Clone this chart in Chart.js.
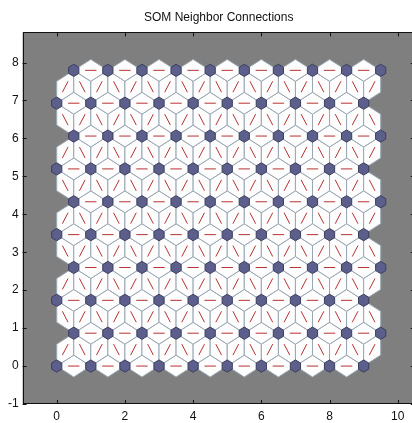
<!DOCTYPE html>
<html lang="en">
<head>
<meta charset="UTF-8">
<title>SOM Neighbor Connections</title>
<style>
    html, body { margin: 0; padding: 0; background: #fff; overflow: hidden; }
    #wrap { width: 412px; height: 423px; overflow: hidden; }
</style>
</head>
<body>
<div id="wrap"><canvas id="somChart" width="420" height="423"></canvas></div>
<script src="https://cdn.jsdelivr.net/npm/chart.js"></script>
<script>
    // 10 x 10 hexagonal SOM layer, one entry per column / row
    const colX = [0, 1, 2, 3, 4, 5, 6, 7, 8, 9];
    const rowY = [0, 0.866, 1.732, 2.598, 3.464, 4.330, 5.196, 6.062, 6.928, 7.794];
    const rowShift = [0, 0.5, 0, 0.5, 0, 0.5, 0, 0.5, 0, 0.5];
    const xTicks = [0, 2, 4, 6, 8, 10];
    const yTicks = [-1, 0, 1, 2, 3, 4, 5, 6, 7, 8];

    const FONT = "'Liberation Sans', Arial, sans-serif";

    // neuron positions
    const neurons = [];
    rowY.forEach((y, j) => colX.forEach(x => neurons.push({ x: x + rowShift[j], y: y })));

    // neighbour pairs (distance 1)
    const edges = [];
    for (let a = 0; a < neurons.length; a++) {
        for (let b = a + 1; b < neurons.length; b++) {
            const dx = neurons[b].x - neurons[a].x, dy = neurons[b].y - neurons[a].y;
            if (Math.sqrt(dx * dx + dy * dy) <= 1.001) edges.push([neurons[a], neurons[b]]);
        }
    }

    // short red connection lines (middle third), separated by gaps
    const lineData = [];
    edges.forEach(([p, q]) => {
        lineData.push({ x: (2 * p.x + q.x) / 3, y: (2 * p.y + q.y) / 3 });
        lineData.push({ x: (p.x + 2 * q.x) / 3, y: (p.y + 2 * q.y) / 3 });
        lineData.push({ x: NaN, y: NaN });
    });

    const H = Math.sqrt(0.75) / 3;
    const shapeX = [-1, 0, 1, 1, 0, -1].map(v => v * 0.5);
    const shapeY = [1, 2, 1, -1, -2, -1].map(v => v * H);

    function poly(ctx, pts, fill, stroke) {
        ctx.beginPath();
        pts.forEach((p, i) => i ? ctx.lineTo(p[0], p[1]) : ctx.moveTo(p[0], p[1]));
        ctx.closePath();
        ctx.fillStyle = fill;
        ctx.fill();
        ctx.strokeStyle = stroke;
        ctx.lineWidth = 1;
        ctx.stroke();
    }

    const somPatches = {
        id: 'somPatches',
        beforeDatasetsDraw(chart) {
            const { ctx, chartArea: ca, scales: { x, y } } = chart;
            ctx.save();
            ctx.fillStyle = '#7f7f7f';
            ctx.fillRect(ca.left, ca.top, ca.right - ca.left, ca.bottom - ca.top);
            ctx.beginPath();
            ctx.rect(ca.left, ca.top, ca.right - ca.left, ca.bottom - ca.top);
            ctx.clip();
            edges.forEach(([p, q]) => {
                const mx = (p.x + q.x) / 2, my = (p.y + q.y) / 2;
                const nx = -(q.y - p.y) * H, ny = (q.x - p.x) * H;
                const pts = [[p.x, p.y], [mx + nx, my + ny], [q.x, q.y], [mx - nx, my - ny]]
                    .map(v => [x.getPixelForValue(v[0]), y.getPixelForValue(v[1])]);
                poly(ctx, pts, '#fdfdfd', '#98a8b4');
            });
            ctx.restore();
        },
        afterDatasetsDraw(chart) {
            const { ctx, chartArea: ca, scales: { x, y } } = chart;
            ctx.save();
            neurons.forEach(n => {
                const pts = shapeX.map((sx, i) => [x.getPixelForValue(n.x + sx * 0.3), y.getPixelForValue(n.y + shapeY[i] * 0.28)]);
                poly(ctx, pts, '#5c5f8c', '#3c3e5e');
            });
            // axes box and inward ticks
            ctx.strokeStyle = '#111';
            ctx.lineWidth = 1;
            ctx.strokeRect(Math.round(ca.left) + 0.5, Math.round(ca.top) + 0.5, Math.round(ca.right - ca.left), Math.round(ca.bottom - ca.top) - 1);
            ctx.beginPath();
            xTicks.forEach(v => {
                const px = Math.round(x.getPixelForValue(v)) + 0.5;
                ctx.moveTo(px, ca.bottom); ctx.lineTo(px, ca.bottom - 4);
                ctx.moveTo(px, ca.top); ctx.lineTo(px, ca.top + 4);
            });
            yTicks.forEach(v => {
                const py = Math.round(y.getPixelForValue(v)) + 0.5;
                ctx.moveTo(ca.left, py); ctx.lineTo(ca.left + 4, py);
                ctx.moveTo(ca.right, py); ctx.lineTo(ca.right - 4, py);
            });
            ctx.stroke();
            ctx.restore();
        }
    };

    const tickFont = { family: FONT, size: 12 };

    new Chart(document.getElementById('somChart'), {
        type: 'scatter',
        data: {
            datasets: [{
                label: 'connections',
                data: lineData,
                showLine: true,
                spanGaps: false,
                borderColor: '#b83232',
                borderWidth: 1,
                pointRadius: 0,
                pointHoverRadius: 0
            }]
        },
        options: {
            responsive: false,
            animation: false,
            events: [],
            layout: { padding: { right: 5.2 } },
            plugins: {
                legend: { display: false },
                tooltip: { enabled: false },
                title: {
                    display: true,
                    fullSize: false,
                    text: 'SOM Neighbor Connections',
                    color: '#111',
                    font: { family: FONT, size: 12, weight: 'normal' },
                    padding: { top: 10, bottom: 8 }
                }
            },
            scales: {
                x: {
                    type: 'linear',
                    min: -1,
                    max: 10.5,
                    afterBuildTicks: s => { s.ticks = xTicks.map(v => ({ value: v })); },
                    afterFit: s => { s.height = 19; },
                    grid: { display: false, drawTicks: false },
                    border: { display: false },
                    ticks: { padding: 5, font: tickFont, color: '#111', maxRotation: 0, autoSkip: false }
                },
                y: {
                    type: 'linear',
                    min: -1,
                    max: 8.794,
                    afterBuildTicks: s => { s.ticks = yTicks.map(v => ({ value: v })); },
                    afterFit: s => { s.width = 22.6; },
                    grid: { display: false, drawTicks: false },
                    border: { display: false },
                    ticks: { padding: 4, font: tickFont, color: '#111', autoSkip: false }
                }
            }
        },
        plugins: [somPatches]
    });
</script>
</body>
</html>
